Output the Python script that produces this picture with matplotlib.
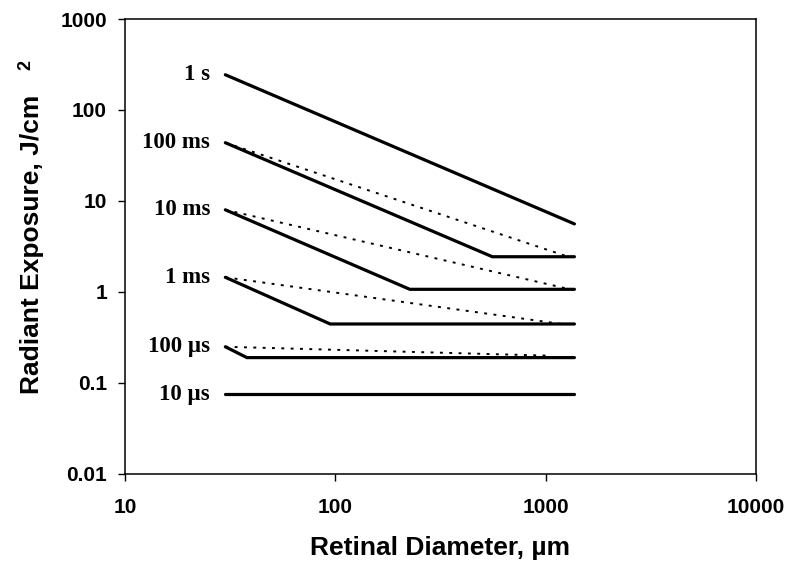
import matplotlib
matplotlib.use("Agg")
import matplotlib.pyplot as plt
from matplotlib.font_manager import FontProperties
from matplotlib.ticker import FixedLocator, FixedFormatter, NullLocator

# exposure-duration labels, top to bottom
durations = ["1 s", "100 ms", "10 ms", "1 ms", "100 \u00b5s", "10 \u00b5s"]

# solid curves (retinal diameter in um, radiant exposure in J/cm2)
solid_x = [
    [30, 1370],
    [30, 558, 1370],
    [30, 226, 1370],
    [30, 94.5, 1370],
    [30, 38, 1370],
    [30, 1370],
]
solid_y = [
    [244, 5.6],
    [43.7, 2.44, 2.44],
    [8.0, 1.07, 1.07],
    [1.45, 0.445, 0.445],
    [0.25, 0.19, 0.19],
    [0.075, 0.075],
]

# dotted curves (no dotted curve for 1 s and 10 us)
dotted_x = [
    [30, 1240],
    [30, 1240],
    [30, 1190],
    [30, 1000],
]
dotted_y = [
    [43.7, 2.5],
    [8.0, 1.1],
    [1.45, 0.445],
    [0.25, 0.2],
]

x_ticks = [10, 100, 1000, 10000]
y_ticks = [0.01, 0.1, 1, 10, 100, 1000]
y_ticklabels = ["0.01", "0.1", "1", "10", "100", "1000"]


def main():
    fig = plt.figure(figsize=(7.89, 5.69), dpi=100)
    ax = fig.add_axes([0.1584, 0.167, 0.7998, 0.7996])

    for xs, ys in zip(solid_x, solid_y):
        ax.plot(xs, ys, color="black", lw=2.3, solid_capstyle="round",
                solid_joinstyle="miter")
    for xs, ys in zip(dotted_x, dotted_y):
        ax.plot(xs, ys, color="black", lw=1.4, linestyle=(0, (1.5, 3.3)))

    ax.set_xscale("log")
    ax.set_yscale("log")
    ax.set_xlim(10, 10000)
    ax.set_ylim(0.01, 1000)

    ax.xaxis.set_major_locator(FixedLocator(x_ticks))
    ax.xaxis.set_major_formatter(FixedFormatter([str(t) for t in x_ticks]))
    ax.xaxis.set_minor_locator(NullLocator())
    ax.yaxis.set_major_locator(FixedLocator(y_ticks))
    ax.yaxis.set_major_formatter(FixedFormatter(y_ticklabels))
    ax.yaxis.set_minor_locator(NullLocator())

    tick_font = FontProperties(family="Liberation Sans", weight="bold", size=15)
    for lab in ax.get_xticklabels() + ax.get_yticklabels():
        lab.set_fontproperties(tick_font)
    ax.tick_params(direction="out", length=5, width=1.0, colors="black")
    ax.tick_params(axis="x", pad=12)
    ax.tick_params(axis="y", pad=8)
    for sp in ax.spines.values():
        sp.set_linewidth(1.1)

    # duration labels at the left end of each solid curve
    for name, xs, ys in zip(durations, solid_x, solid_y):
        ax.annotate(name, xy=(xs[0], ys[0]), xytext=(-11, 0),
                    textcoords="offset points", ha="right", va="center",
                    family="Liberation Serif", weight="bold", fontsize=16.5)

    fig.text(0.558, 0.037, "Retinal Diameter, \u00b5m", ha="center", va="center",
             family="Liberation Sans", weight="bold", fontsize=19)
    fig.text(0.040, 0.57, "Radiant Exposure, J/cm", ha="center", va="center",
             rotation=90, family="Liberation Sans", weight="bold", fontsize=19)
    fig.text(0.033, 0.885, "2", ha="center", va="center", rotation=90,
             family="Liberation Sans", weight="bold", fontsize=13)

    fig.savefig("out.png", dpi=100)


if __name__ == "__main__":
    main()
